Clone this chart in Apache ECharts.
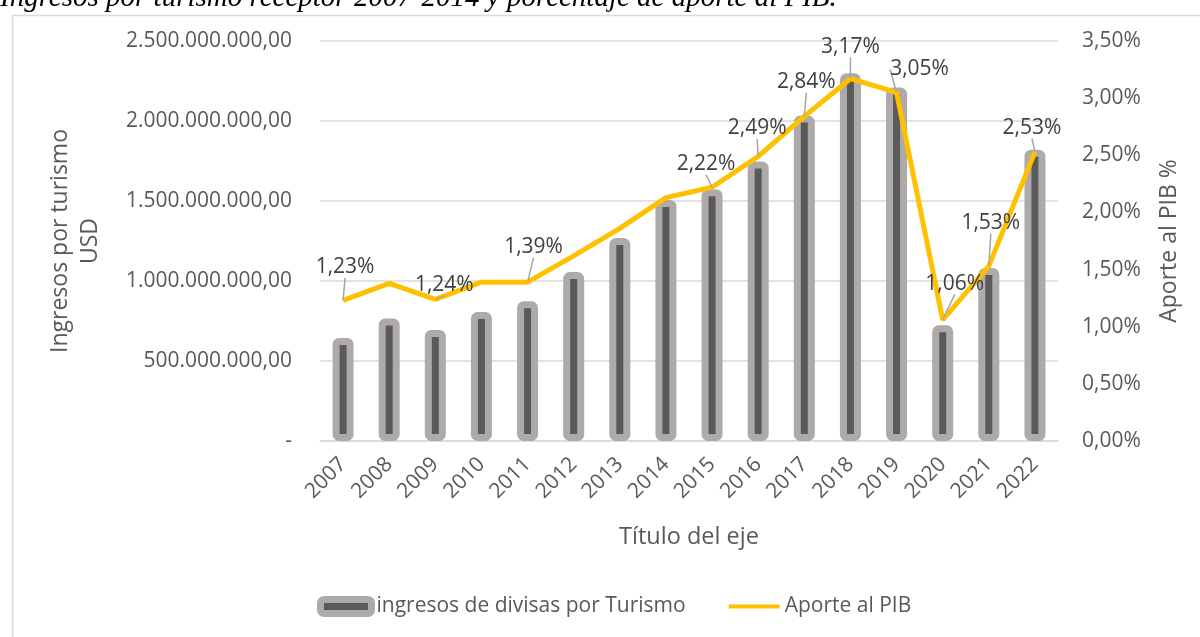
<!DOCTYPE html>
<html>
<head>
<meta charset="utf-8">
<script src="https://cdn.jsdelivr.net/npm/echarts@6/dist/echarts.min.js"></script>
<style>
    html, body { margin: 0; padding: 0; background: #fff; }
    #chart { width: 1200px; height: 637px; }
</style>
</head>
<body>
<div id="chart"></div>
<script>
// datos
var years = ['2007', '2008', '2009', '2010', '2011', '2012', '2013', '2014', '2015', '2016', '2017', '2018', '2019', '2020', '2021', '2022'];
var ingresos = [644e6, 765e6, 694e6, 806e6, 873e6, 1056e6, 1268e6, 1507e6, 1574e6, 1747e6, 2034e6, 2298e6, 2209e6, 723e6, 1081e6, 1820e6];
var aportePIB = [1.23, 1.38, 1.24, 1.39, 1.39, 1.62, 1.86, 2.13, 2.22, 2.49, 2.84, 3.17, 3.05, 1.06, 1.53, 2.53];
var yearsConEtiqueta = ['2007', '2009', '2011', '2015', '2016', '2017', '2018', '2019', '2020', '2021', '2022'];

// desplazamiento de las etiquetas (estilo, no datos)
var labelOffsets = {
    '2007': [2, -17], '2009': [9, 2], '2011': [6, -19], '2015': [-6, -7], '2016': [-1, -12],
    '2017': [2, -18], '2018': [0, -16], '2019': [23, -7], '2020': [12, -20], '2021': [2, -27], '2022': [-3, -8]
};

var font = 'Open Sans';
var gris = '#595959';

function fmtUSD(v) {
    if (v === 0) return '-';
    return Math.round(v).toString().replace(/\B(?=(\d{3})+(?!\d))/g, '.') + ',00';
}
function fmtPct(v) {
    return v.toFixed(2).replace('.', ',') + '%';
}

var lineData = aportePIB.map(function (v, i) {
    return { value: v, label: { show: yearsConEtiqueta.indexOf(years[i]) >= 0 } };
});

var chart = echarts.init(document.getElementById('chart'), null, { renderer: 'canvas' });

var options = {
    animation: false,
    backgroundColor: '#fff',
    textStyle: { fontFamily: font },
    graphic: [
        {
            type: 'rect', left: 10, top: 13, silent: true,
            shape: { width: 1300, height: 700 },
            style: { fill: 'none', stroke: '#d9d9d9', lineWidth: 1.5 }
        },
        {
            type: 'text', left: 0, top: -16, silent: true,
            style: {
                text: 'Ingresos por turismo receptor 2007-2014 y porcentaje de aporte al PIB.',
                font: 'italic 29px "Liberation Serif"', fill: '#000'
            }
        }
    ],
    grid: { left: 320, right: 142, top: 41, bottom: 196 },
    legend: {
        left: 317, top: 596, padding: 0,
        itemWidth: 51, itemHeight: 14, itemGap: 43,
        textStyle: { fontFamily: font, fontSize: 21, color: gris },
        data: [
            { name: 'ingresos de divisas por Turismo', itemStyle: { color: '#5a5a5a', borderColor: '#aeaaaa', borderWidth: 7 } },
            { name: 'Aporte al PIB', icon: 'path://M0,0H51V4H0Z' }
        ]
    },
    xAxis: {
        type: 'category',
        data: years,
        name: 'Título del eje',
        nameLocation: 'middle',
        nameGap: 84,
        nameTextStyle: { fontFamily: font, fontSize: 23.5, color: gris },
        axisLine: { lineStyle: { color: '#d9d9d9', width: 1.5 } },
        axisTick: { show: false },
        axisLabel: { rotate: 45, margin: 20, fontSize: 21, color: gris, fontFamily: font, interval: 0 }
    },
    yAxis: [
        {
            type: 'value', min: 0, max: 2500000000, interval: 500000000,
            name: 'Ingresos por turismo\nUSD',
            nameLocation: 'middle', nameRotate: 90, nameGap: 215,
            nameTextStyle: { fontFamily: font, fontSize: 23, color: gris, lineHeight: 30 },
            axisLine: { show: false },
            axisTick: { show: false },
            axisLabel: { margin: 28, fontSize: 21, color: gris, fontFamily: font, formatter: fmtUSD },
            splitLine: { lineStyle: { color: '#d9d9d9', width: 1.5 } }
        },
        {
            type: 'value', min: 0, max: 3.5, interval: 0.5,
            name: 'Aporte al PIB %',
            nameLocation: 'middle', nameRotate: 90, nameGap: 100,
            nameTextStyle: { fontFamily: font, fontSize: 23, color: gris },
            axisLine: { show: false },
            axisTick: { show: false },
            axisLabel: { margin: 24, fontSize: 21, color: gris, fontFamily: font, formatter: fmtPct },
            splitLine: { show: false }
        }
    ],
    series: [
        {
            name: 'ingresos de divisas por Turismo',
            type: 'bar',
            data: ingresos,
            barWidth: 21,
            itemStyle: { color: '#5a5a5a', borderColor: '#aeaaaa', borderWidth: 7, borderRadius: 3 }
        },
        {
            name: 'Aporte al PIB',
            type: 'line',
            yAxisIndex: 1,
            data: lineData,
            color: '#ffc000',
            symbol: 'circle',
            symbolSize: 1,
            lineStyle: { color: '#ffc000', width: 5 },
            itemStyle: { color: '#ffc000' },
            label: {
                position: 'top', distance: 5,
                fontFamily: font, fontSize: 21, color: '#404040',
                formatter: function (p) { return fmtPct(p.value); }
            },
            labelLine: { show: true, lineStyle: { color: '#a6a6a6', width: 1.5 } },
            labelLayout: function (params) {
                var o = labelOffsets[years[params.dataIndex]] || [0, 0];
                return { dx: o[0], dy: o[1] };
            },
            z: 3
        }
    ]
};

chart.setOption(options);
window.onresize = chart.resize;
</script>
</body>
</html>
